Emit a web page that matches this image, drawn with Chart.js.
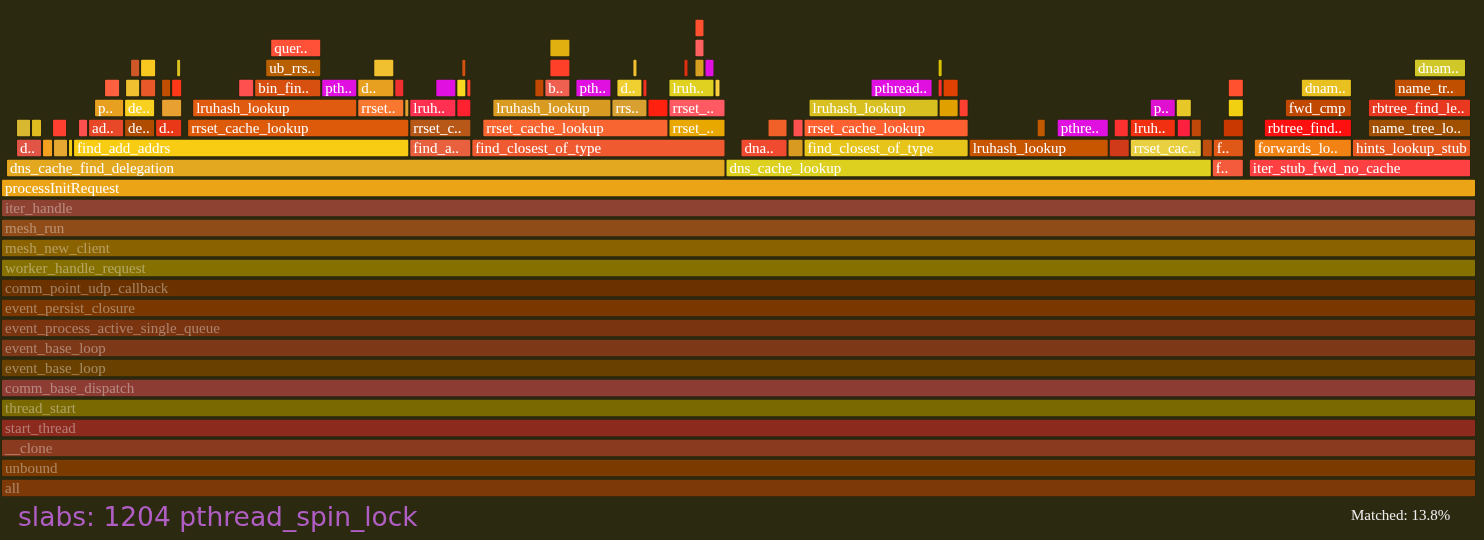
<!DOCTYPE html>
<html>
<head>
<meta charset="utf-8">
<script src="https://cdn.jsdelivr.net/npm/chart.js@4.4.0/dist/chart.umd.min.js"></script>
<style>
    html, body { margin: 0; padding: 0; background: #2b2a11; }
    #wrap { position: relative; width: 1484px; height: 540px; }
    #status { position: absolute; left: 18px; top: 501px; font: 26.5px 'DejaVu Sans', sans-serif; color: #b05ec4; white-space: nowrap; }
    #matched { position: absolute; left: 1351px; top: 507px; font: 15px 'Liberation Serif', serif; color: #eeeeee; }
</style>
</head>
<body>
<div id="wrap">
    <canvas id="flame" width="1484" height="540"></canvas>
    <div id="status">slabs: 1204 pthread_spin_lock</div>
    <div id="matched">Matched: 13.8%</div>
</div>
<script>
// total samples under "all"
const totalSamples = 1474;

// stack depth categories (0 = bottom frame)
const levelLabels = ['0','1','2','3','4','5','6','7','8','9','10','11','12','13','14','15','16','17','18','19','20','21','22','23'];

// one entry per frame, one line per stack level
const frameLevel = [
    0, 1, 2, 3, 4, 5, 6, 7, 8, 9, 10, 11, 12, 13, 14, 15,
    16, 16, 16, 16,
    17, 17, 17, 17, 17, 17, 17, 17, 17, 17, 17, 17, 17, 17, 17, 17, 17,
    18, 18, 18, 18, 18, 18, 18, 18, 18, 18, 18, 18, 18, 18, 18, 18, 18, 18, 18, 18, 18, 18, 18,
    19, 19, 19, 19, 19, 19, 19, 19, 19, 19, 19, 19, 19, 19, 19, 19, 19, 19, 19, 19,
    20, 20, 20, 20, 20, 20, 20, 20, 20, 20, 20, 20, 20, 20, 20, 20, 20, 20, 20, 20, 20, 20, 20, 20, 20, 20,
    21, 21, 21, 21, 21, 21, 21, 21, 21, 21, 21, 21, 21,
    22, 22, 22,
    23
];

const frameName = [
    'all', 'unbound', '__clone', 'start_thread', 'thread_start', 'comm_base_dispatch', 'event_base_loop', 'event_base_loop',
    'event_process_active_single_queue', 'event_persist_closure', 'comm_point_udp_callback', 'worker_handle_request',
    'mesh_new_client', 'mesh_run', 'iter_handle', 'processInitRequest',
    'dns_cache_find_delegation', 'dns_cache_lookup', 'f..', 'iter_stub_fwd_no_cache',
    'd..', '', '', '', 'find_add_addrs', 'find_a..', 'find_closest_of_type', 'dna..', '', 'find_closest_of_type', 'lruhash_lookup', '', 'rrset_cac..', '', 'f..', 'forwards_lo..', 'hints_lookup_stub',
    '', '', '', '', 'ad..', 'de..', 'd..', 'rrset_cache_lookup', 'rrset_c..', 'rrset_cache_lookup', 'rrset_..', '', '', 'rrset_cache_lookup', '', 'pthre..', '', 'lruh..', '', '', '', 'rbtree_find..', 'name_tree_lo..',
    'p..', 'de..', '', 'lruhash_lookup', 'rrset..', '', 'lruh..', '', 'lruhash_lookup', 'rrs..', '', 'rrset_..', 'lruhash_lookup', '', '', 'p..', '', '', 'fwd_cmp', 'rbtree_find_le..',
    '', '', '', '', '', '', 'bin_fin..', 'pth..', 'd..', '', '', '', '', '', 'b..', 'pth..', 'd..', '', 'lruh..', '', 'pthread..', '', '', '', 'dnam..', 'name_tr..',
    '', '', '', 'ub_rrs..', '', '', '', '', '', '', '', '', 'dnam..',
    'quer..', '', '',
    ''
];

const frameStart = [
    0, 0, 0, 0, 0, 0, 0, 0, 0, 0, 0, 0, 0, 0, 0, 0,
    5, 724, 1210, 1247,
    15, 41, 52, 67, 72, 408, 470, 739, 786, 802, 967, 1107, 1128, 1200, 1211, 1252, 1350,
    15, 30, 51, 77, 87, 123, 154, 186, 408, 481, 667, 766, 791, 802, 1035, 1055, 1112, 1128, 1175, 1189, 1221, 1262, 1366,
    93, 123, 160, 191, 356, 403, 408, 455, 491, 610, 646, 667, 807, 937, 957, 1148, 1174, 1226, 1283, 1366,
    103, 124, 139, 160, 170, 237, 253, 320, 356, 393, 434, 455, 465, 533, 543, 574, 615, 641, 667, 713, 869, 936, 941, 1226, 1299, 1392,
    129, 139, 175, 264, 372, 460, 548, 631, 682, 693, 703, 936, 1412,
    269, 548, 693,
    693
];

const frameEnd = [
    1474, 1474, 1474, 1474, 1474, 1474, 1474, 1474, 1474, 1474, 1474, 1474, 1474, 1474, 1474, 1474,
    724, 1210, 1242, 1469,
    41, 52, 67, 72, 408, 470, 724, 786, 802, 967, 1107, 1128, 1200, 1211, 1242, 1350, 1469,
    30, 41, 66, 87, 123, 154, 181, 408, 470, 667, 724, 786, 802, 967, 1044, 1107, 1127, 1174, 1189, 1200, 1242, 1350, 1469,
    123, 154, 181, 356, 403, 408, 455, 470, 610, 646, 667, 724, 937, 957, 967, 1174, 1190, 1242, 1350, 1469,
    119, 139, 155, 170, 181, 253, 320, 356, 393, 403, 455, 465, 470, 543, 569, 610, 641, 646, 713, 719, 931, 941, 957, 1242, 1350, 1464,
    139, 155, 180, 320, 393, 465, 569, 636, 687, 703, 713, 941, 1464,
    320, 569, 703,
    703
];

// fill colour per frame (same order as above)
const frameColor = [
    '#7d3a08', '#7a3a00', '#8a3a1e', '#8c2a1e', '#7a6800', '#8c3c32', '#6a4000', '#7d3818',
    '#7a3410', '#7a3800', '#6b3200', '#857000', '#8a6200', '#8f4c18', '#8e4232', '#eaa416',
    '#e3a820', '#ded01e', '#f45a3c', '#ff4042',
    '#e05545', '#f5a01e', '#e6a830', '#f5cc14', '#f7cc12', '#e8603e', '#f05a30', '#f04a30', '#d89a20', '#e6c41a', '#c85500', '#d03a18', '#e8d040', '#c05010', '#e05818', '#f28214', '#e65a22',
    '#d8b830', '#e0bc20', '#ff4030', '#ff5050', '#e84828', '#b04c00', '#e83818', '#dd5a0a', '#b85818', '#f86530', '#e8a800', '#f06028', '#ff5050', '#ff6030', '#c05800', '#e010e0', '#ff3030', '#f03010', '#ff2040', '#c04808', '#c83800', '#ff1010', '#a05000',
    '#e8a020', '#f8d020', '#e8a030', '#e05a10', '#f87830', '#e0a030', '#ff3050', '#ff2030', '#d89a20', '#d8a030', '#ff2010', '#ff5a64', '#d8c020', '#e0a000', '#ff4030', '#e010d0', '#e8c828', '#f0d010', '#c04800', '#e83820',
    '#ff6040', '#f0c030', '#e85828', '#c05000', '#ff3818', '#ff5050', '#d85010', '#e010e0', '#e8a020', '#f03030', '#e010e0', '#f8d820', '#ff4030', '#c04800', '#f06050', '#e010e0', '#f0d030', '#f03020', '#e0d020', '#f8d040', '#e010e0', '#ff3030', '#e04000', '#ff5030', '#e8c020', '#c05000',
    '#d05828', '#f8c820', '#d8c020', '#b86000', '#f0c030', '#d05010', '#ff4028', '#f0c030', '#e03010', '#d8a020', '#e010e0', '#d8c000', '#d0c828',
    '#ff5038', '#e0b010', '#ff6060',
    '#ff5030'
];

// frames below this depth are dimmed (not part of the search match)
const DIM_BELOW = 15;

// tulis nama fungsi di dalam tiap frame
const frameLabels = {
    id: 'frameLabels',
    afterDatasetsDraw(chart) {
        const ctx = chart.ctx;
        const meta = chart.getDatasetMeta(0);
        ctx.save();
        ctx.font = "15px 'Liberation Serif', serif";
        ctx.textBaseline = 'middle';
        meta.data.forEach((bar, i) => {
            const name = frameName[i];
            if (!name) return;
            const left = Math.min(bar.x, bar.base);
            const w = Math.abs(bar.x - bar.base);
            ctx.save();
            ctx.beginPath();
            ctx.rect(left, bar.y - bar.height / 2, w - 1, bar.height);
            ctx.clip();
            ctx.fillStyle = frameLevel[i] < DIM_BELOW ? 'rgba(255,255,255,0.38)' : '#ffffff';
            ctx.fillText(name, left + 4, bar.y + 1);
            ctx.restore();
        });
        ctx.restore();
    }
};

const points = frameName.map((n, i) => ({ y: String(frameLevel[i]), x: [frameStart[i], frameEnd[i]] }));

new Chart(document.getElementById('flame'), {
    type: 'bar',
    data: {
        labels: levelLabels,
        datasets: [{
            data: points,
            backgroundColor: frameColor,
            borderColor: 'rgba(40,25,0,0.35)',
            borderWidth: 1,
            borderSkipped: false,
            borderRadius: 2,
            categoryPercentage: 1,
            barPercentage: 0.92
        }]
    },
    options: {
        indexAxis: 'y',
        responsive: false,
        animation: false,
        layout: { padding: { left: 1, right: 8, top: 18, bottom: 42 } },
        plugins: {
            legend: { display: false },
            tooltip: { enabled: false }
        },
        scales: {
            x: { type: 'linear', min: 0, max: totalSamples, display: false },
            y: { reverse: true, display: false }
        }
    },
    plugins: [frameLabels]
});
</script>
</body>
</html>
